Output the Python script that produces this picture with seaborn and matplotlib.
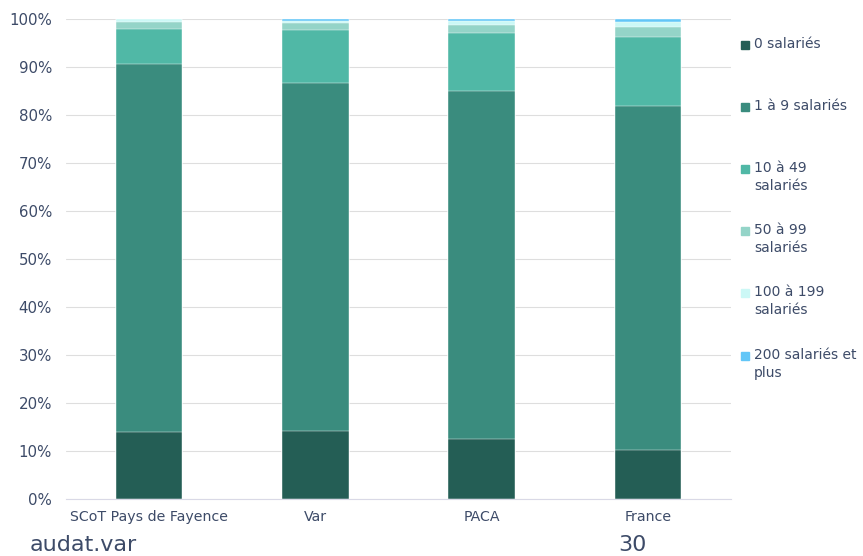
import numpy as np
import pandas as pd
import matplotlib
matplotlib.use("Agg")
import matplotlib.pyplot as plt
import seaborn as sns

# zones compared
zones = ['SCoT Pays de Fayence', 'Var', 'PACA', 'France']

# share of establishments by size class (%)
classes = ['0 salariés', '1 à 9 salariés', '10 à 49\nsalariés', '50 à 99\nsalariés',
           '100 à 199\nsalariés', '200 salariés et\nplus']
s0 = [14.0, 14.2, 12.6, 10.3]
s1_9 = [76.7, 72.4, 72.3, 71.5]
s10_49 = [7.3, 11.1, 12.2, 14.5]
s50_99 = [1.4, 1.4, 1.7, 2.1]
s100_199 = [0.5, 0.5, 0.7, 0.9]
s200 = [0.1, 0.4, 0.5, 0.7]

colors = ['#245e55', '#3a8c7e', '#50b8a6', '#94d4c8', '#ccf8f6', '#62c6f7']
text_col = '#3d4b68'

sns.set_style("white")
plt.rcParams['font.family'] = ['DejaVu Sans']

series = [s0, s1_9, s10_49, s50_99, s100_199, s200]
df = pd.DataFrame(np.array(series).T, columns=classes)
df['zone'] = zones
cum = df[classes].cumsum(axis=1)

fig = plt.figure(figsize=(8.63, 5.56), dpi=100)
ax = fig.add_axes([0.0765, 0.1025, 0.7705, 0.8633])

# draw cumulative totals from the top class down so each bar hides the next
for cls, col in reversed(list(zip(classes, colors))):
    sns.barplot(x=df['zone'], y=cum[cls], color=col, width=0.4, ax=ax,
                saturation=1, edgecolor='white', linewidth=0.3)

ax.set_ylim(0, 100)
ax.set_xlim(-0.5, 3.5)
ax.set_yticks(np.arange(0, 101, 10))
ax.set_yticklabels([f'{v}%' for v in range(0, 101, 10)])
ax.set_xlabel('')
ax.set_ylabel('')
ax.grid(axis='y', color='#dedede', linewidth=0.8)
ax.set_axisbelow(True)
for side in ['top', 'right', 'left']:
    ax.spines[side].set_visible(False)
ax.spines['bottom'].set_color('#d9d9e6')
ax.tick_params(axis='both', length=0, colors=text_col)
ax.tick_params(axis='y', pad=10, labelsize=10.8)
ax.tick_params(axis='x', pad=8, labelsize=10.2)

# legend on the right, marker aligned with first text line
leg_y = [45, 107, 169, 231, 293, 356]
for cls, col, yp in zip(classes, colors, leg_y):
    yf = 1 - yp / 556
    fig.patches.append(plt.Rectangle((741 / 863, yf - 4 / 556), 8 / 863, 8 / 556,
                                     transform=fig.transFigure, color=col, figure=fig))
    fig.text(754 / 863, yf + 8 / 556, cls, ha='left', va='top', fontsize=10,
             color=text_col, linespacing=1.35)

fig.text(30 / 863, 1 - 545 / 556, 'audat.var', fontsize=16, color=text_col, va='center')
fig.text(618 / 863, 1 - 545 / 556, '30', fontsize=16, color=text_col, va='center')

fig.savefig('out.png', dpi=100)
